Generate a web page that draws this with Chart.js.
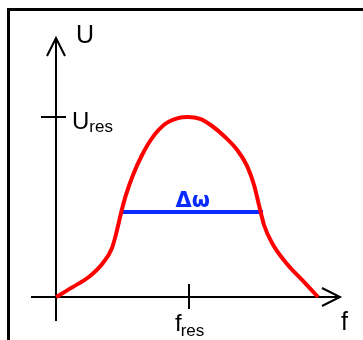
<!DOCTYPE html>
<html>
<head>
<meta charset="utf-8">
<script src="https://cdn.jsdelivr.net/npm/chart.js@4/dist/chart.umd.min.js"></script>
<style>
  html, body { margin: 0; padding: 0; background: #fff; }
  #wrap { position: relative; width: 363px; height: 340px; overflow: hidden; }
  #frame { position: absolute; left: 7px; top: 8px; width: 400px; height: 400px;
           border: 3px solid #000; box-sizing: border-box; pointer-events: none; }
  canvas { position: absolute; left: 0; top: 0; }
</style>
</head>
<body>
<div id="wrap">
  <div id="frame"></div>
  <canvas id="c" width="363" height="340"></canvas>
</div>
<script>
// Resonance curve: frequency in units of f_res, voltage in units of U_res
const freq    = [0, 0.128, 0.256, 0.353, 0.421, 0.459, 0.489, 0.526, 0.579, 0.647, 0.722, 0.820, 0.917,
                 0.992, 1.083, 1.173, 1.271, 1.368, 1.436, 1.489, 1.526, 1.564, 1.624, 1.737, 1.857, 1.970];
const voltage = [0, 0.056, 0.117, 0.189, 0.272, 0.372, 0.467, 0.567, 0.678, 0.789, 0.883, 0.961, 0.994,
                 1.000, 0.989, 0.950, 0.889, 0.811, 0.728, 0.622, 0.511, 0.400, 0.300, 0.183, 0.089, 0];

// Bandwidth marker
const bandEdges = [0.494, 1.556];
const bandLevel = 0.472;
const bandLabel = 'Δω';

// Axis ticks and labels
const xTickValue = 1, xTickLabel = ['f', 'res'];
const yTickValue = 1, yTickLabel = ['U', 'res'];
const xAxisName = 'f', yAxisName = 'U';
const xAxisRange = [-0.188, 2.135];
const yAxisRange = [-0.133, 1.439];

const curvePoints = freq.map((f, i) => ({ x: f, y: voltage[i] }));
const bandPoints = bandEdges.map(f => ({ x: f, y: bandLevel }));

const FONT = "'Liberation Sans', Arial, sans-serif";

function arrowHead(ctx, tx, ty, dx, dy) {
  // open chevron pointing along (dx, dy)
  const len = 18, half = 9;
  const nx = -dy, ny = dx;
  ctx.beginPath();
  ctx.moveTo(tx - dx * len + nx * half, ty - dy * len + ny * half);
  ctx.lineTo(tx, ty);
  ctx.lineTo(tx - dx * len - nx * half, ty - dy * len - ny * half);
  ctx.stroke();
}

const axesPlugin = {
  id: 'axesPlugin',
  beforeDatasetsDraw(chart) {
    const { ctx, scales: { x, y } } = chart;
    const px = v => x.getPixelForValue(v), py = v => y.getPixelForValue(v);
    ctx.save();
    ctx.strokeStyle = '#000';
    ctx.lineWidth = 2;
    ctx.lineCap = 'butt';
    // horizontal axis
    ctx.beginPath();
    ctx.moveTo(px(xAxisRange[0]), py(0));
    ctx.lineTo(px(xAxisRange[1]), py(0));
    ctx.stroke();
    arrowHead(ctx, px(xAxisRange[1]), py(0), 1, 0);
    // vertical axis
    ctx.beginPath();
    ctx.moveTo(px(0), py(yAxisRange[0]));
    ctx.lineTo(px(0), py(yAxisRange[1]));
    ctx.stroke();
    arrowHead(ctx, px(0), py(yAxisRange[1]), 0, -1);
    // tick marks
    ctx.beginPath();
    ctx.moveTo(px(0) - 15, py(yTickValue));
    ctx.lineTo(px(0) + 10, py(yTickValue));
    ctx.moveTo(px(xTickValue), py(0) - 13);
    ctx.lineTo(px(xTickValue), py(0) + 12);
    ctx.stroke();
    ctx.restore();
  },
  afterDatasetsDraw(chart) {
    const { ctx, scales: { x, y } } = chart;
    const px = v => x.getPixelForValue(v), py = v => y.getPixelForValue(v);
    ctx.save();
    ctx.fillStyle = '#000';
    ctx.textAlign = 'left';
    ctx.textBaseline = 'alphabetic';
    // axis names
    ctx.font = '25px ' + FONT;
    ctx.fillText(yAxisName, px(0) + 20, py(yAxisRange[1]) + 5);
    ctx.fillText(xAxisName, px(xAxisRange[1]) + 1, py(0) + 33);
    // y tick label with subscript
    ctx.font = '24px ' + FONT;
    const uy = py(yTickValue) + 12.5;
    const ux = px(0) + 16;
    ctx.fillText(yTickLabel[0], ux, uy);
    const uw = ctx.measureText(yTickLabel[0]).width;
    ctx.font = '17px ' + FONT;
    ctx.fillText(yTickLabel[1], ux + uw, uy + 2.5);
    // x tick label with subscript
    ctx.font = '24px ' + FONT;
    const fx = px(xTickValue) - 14;
    const fy = py(0) + 34.5;
    ctx.fillText(xTickLabel[0], fx, fy);
    const fw = ctx.measureText(xTickLabel[0]).width;
    ctx.font = '17px ' + FONT;
    ctx.fillText(xTickLabel[1], fx + fw - 1, fy + 5);
    // bandwidth label
    ctx.fillStyle = '#0a2bff';
    ctx.font = "bold 21px 'DejaVu Sans', sans-serif";
    ctx.textAlign = 'center';
    ctx.fillText(bandLabel, (px(bandEdges[0]) + px(bandEdges[1])) / 2 + 0.5, py(bandLevel) - 5);
    ctx.restore();
  }
};

new Chart(document.getElementById('c'), {
  type: 'scatter',
  data: {
    datasets: [
      {
        label: 'U(f)',
        data: curvePoints,
        showLine: true,
        borderColor: '#ff0000',
        borderWidth: 4,
        pointRadius: 0,
        cubicInterpolationMode: 'monotone',
        borderCapStyle: 'butt',
        fill: false
      },
      {
        label: bandLabel,
        data: bandPoints,
        showLine: true,
        borderColor: '#0a2bff',
        borderWidth: 4,
        pointRadius: 0,
        borderCapStyle: 'butt',
        fill: false
      }
    ]
  },
  options: {
    responsive: false,
    animation: false,
    events: [],
    layout: { padding: 0 },
    plugins: { legend: { display: false }, tooltip: { enabled: false } },
    scales: {
      x: { type: 'linear', display: false, min: -0.421, max: 2.308 },
      y: { type: 'linear', display: false, min: -0.2389, max: 1.65 }
    }
  },
  plugins: [axesPlugin]
});
</script>
</body>
</html>
